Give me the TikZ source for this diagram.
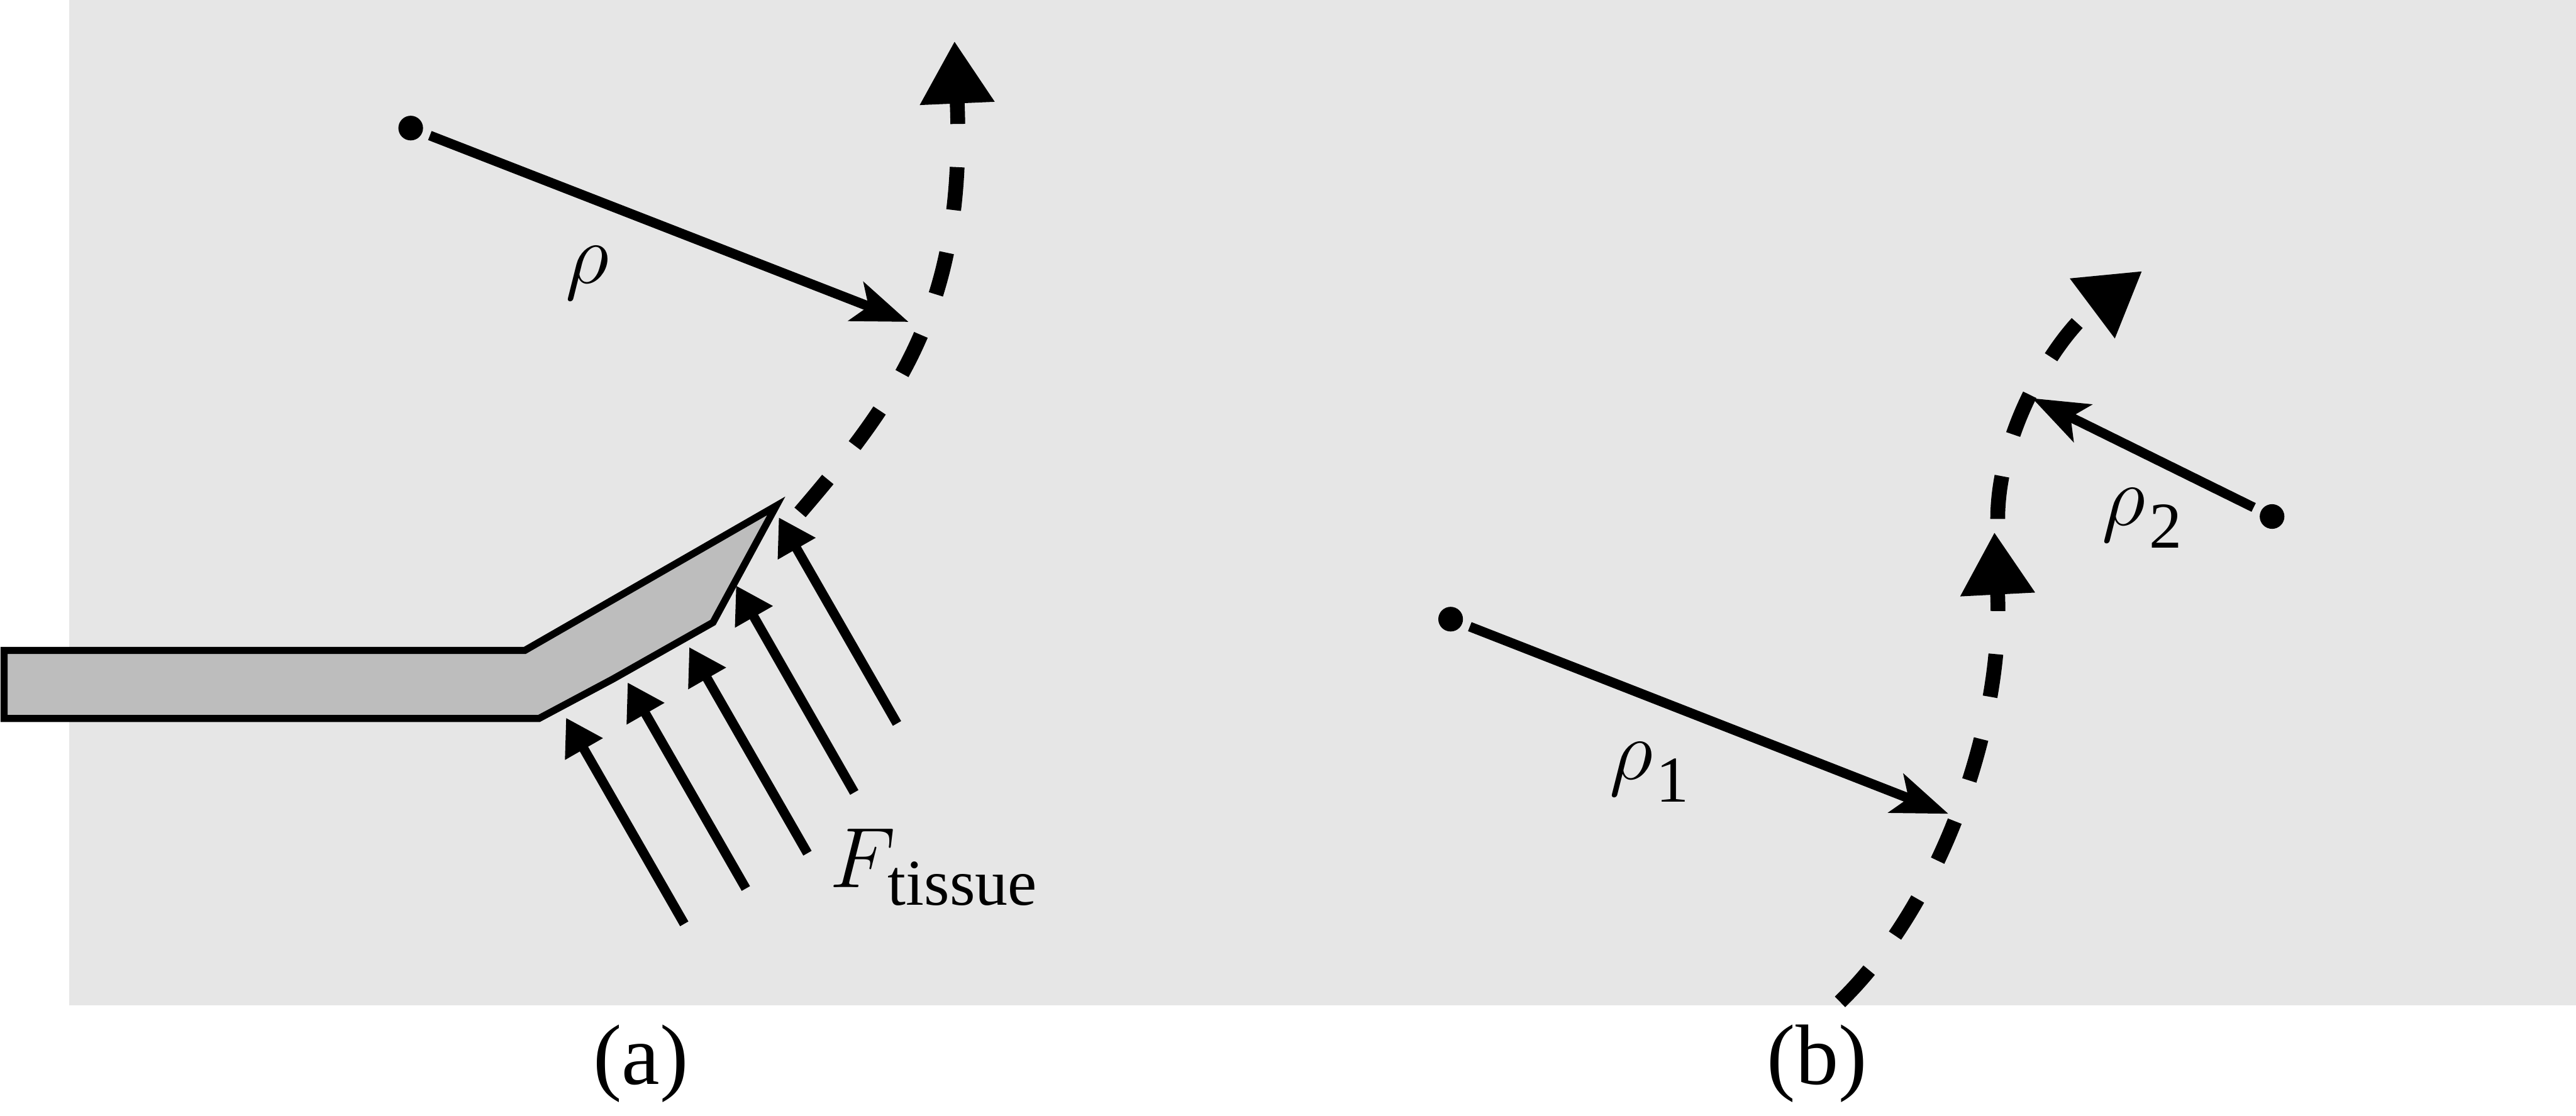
\documentclass[tikz,border=0pt]{standalone}
\usepackage{amsmath}
\usepackage{fontspec}
\setmainfont{Liberation Serif}
\usetikzlibrary{arrows.meta}
\definecolor{bggray}{HTML}{E6E6E6}
\definecolor{toolgray}{HTML}{BDBDBD}
\newcommand{\lowsub}[2]{_{\raisebox{-#1}{\fontsize{11}{11}\selectfont\kern0.6pt #2}}}
\begin{document}
\begin{tikzpicture}[
    x=0.01cm, y=-0.01cm,
    dot/.style={circle, fill=black, inner sep=0pt, minimum size=0.15cm, outer sep=0.05cm},
    label/.style={inner sep=0pt, anchor=base west, font=\Large, scale=1.03},
    radius/.style={-{Stealth[length=0.34cm, width=0.25cm, inset=0.08cm]}, line width=0.059cm},
    force/.style={-{Triangle[length=0.22cm, width=0.25cm]}, line width=0.058cm},
    pathdash/.style={-{Triangle[length=0.38cm, width=0.43cm]}, line width=0.09cm, dash pattern=on 0.262cm off 0.263cm}
]
\useasboundingbox (0, 0) rectangle (1568, 679.47);
\fill[bggray] (42, 0) rectangle (1568, 612);

% Tool
\draw[fill=toolgray, line width=0.043cm, miter limit=20]
    (2.5, 396) -- (319.5, 396) -- (472.5, 308) -- (434, 379) -- (373, 413.5) -- (328, 437.5) -- (2.5, 437.5) -- cycle;

% Centres
\node[dot] (centerA) at (250, 78) {};
\node[dot] (centerB) at (883, 377) {};
\node[dot] (centerC) at (1383, 314.5) {};

% Free ends
\coordinate (tipA) at (553, 196);
\coordinate (tipB) at (1186, 495.5);
\coordinate (tipC) at (1237, 242.5);
\coordinate (startA) at (487, 312);
\coordinate (endA) at (581, 25);
\coordinate (startB) at (1120, 610);
\coordinate (midB) at (1214, 324);
\coordinate (startC) at (1216, 316);
\coordinate (endC) at (1304, 165);

% Radii
\draw[radius] (centerA) -- (tipA);
\draw[radius] (centerB) -- (tipB);
\draw[radius] (centerC) -- (tipC);

% Paths
\draw[pathdash] (startA) .. controls (547, 242) and (588, 185) .. (endA);
\draw[pathdash] (startB) .. controls (1182, 550) and (1220, 440) .. (midB);
\draw[pathdash] (startC) .. controls (1216, 262) and (1252, 204) .. (endC);

% Tissue forces
\coordinate (forceA) at (416.5, 562.5);
\coordinate (forceB) at (454, 541);
\coordinate (forceC) at (491.5, 519.5);
\coordinate (forceD) at (520, 482.5);
\coordinate (forceE) at (546, 440.5);
\coordinate (pushA) at (344.5, 437);
\coordinate (pushB) at (382, 415.5);
\coordinate (pushC) at (419.5, 394);
\coordinate (pushD) at (448, 356.5);
\coordinate (pushE) at (474, 315);
\draw[force] (forceA) -- (pushA);
\draw[force] (forceB) -- (pushB);
\draw[force] (forceC) -- (pushC);
\draw[force] (forceD) -- (pushD);
\draw[force] (forceE) -- (pushE);

% Labels
\node[label] (rhoA) at (343.5, 172.5) {$\rho$};
\node[label] (rhoB) at (979, 474.5) {$\rho\lowsub{1.6pt}{1}$};
\node[label] (rhoC) at (1279, 320) {$\rho\lowsub{1.6pt}{2}$};
\node[label] (tissue) at (504.5, 540.5) {$F\lowsub{0.8pt}{tissue}$};
\node[label, anchor=base] (capA) at (390, 660) {(a)};
\node[label, anchor=base] (capB) at (1106, 660) {(b)};
\end{tikzpicture}
\end{document}
